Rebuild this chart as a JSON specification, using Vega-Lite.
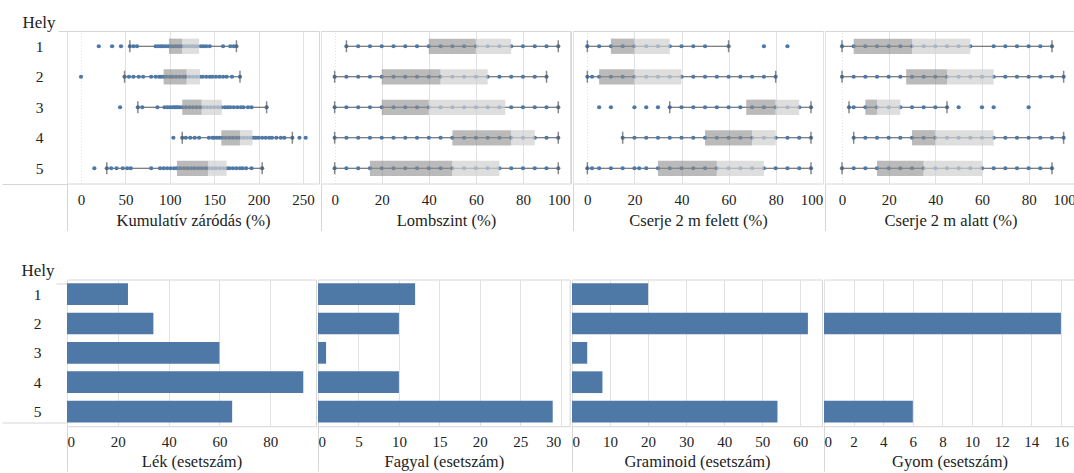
{
  "$schema": "https://vega.github.io/schema/vega-lite/v6.json",
  "padding": {"left": 1, "top": 13, "right": 0, "bottom": 0},
  "config": {
    "font": "Times New Roman, Liberation Serif, DejaVu Serif, serif",
    "view": {"stroke": "#d6d6d6"},
    "axis": {
      "labelFont": "Times New Roman, Liberation Serif, DejaVu Serif, serif",
      "labelFontSize": 15,
      "labelColor": "#222",
      "titleFont": "Times New Roman, Liberation Serif, DejaVu Serif, serif",
      "titleFontSize": 16.5,
      "titleFontWeight": "normal",
      "titleColor": "#222",
      "domain": false
    },
    "axisX": {
      "grid": true,
      "gridColor": "#e2e2e2",
      "ticks": true,
      "tickColor": "#d6d6d6",
      "labelFlush": 6,
      "titleBaseline": "middle"
    },
    "axisY": {"grid": false}
  },
  "datasets": {
    "pts": [
      {"panel":"kum","hely":"1","ertek":20},{"panel":"kum","hely":"1","ertek":35},{"panel":"kum","hely":"1","ertek":45},{"panel":"kum","hely":"1","ertek":55},{"panel":"kum","hely":"1","ertek":59},{"panel":"kum","hely":"1","ertek":63},{"panel":"kum","hely":"1","ertek":84},{"panel":"kum","hely":"1","ertek":87},{"panel":"kum","hely":"1","ertek":90},{"panel":"kum","hely":"1","ertek":92},{"panel":"kum","hely":"1","ertek":95},{"panel":"kum","hely":"1","ertek":98},{"panel":"kum","hely":"1","ertek":101},{"panel":"kum","hely":"1","ertek":104},{"panel":"kum","hely":"1","ertek":107},{"panel":"kum","hely":"1","ertek":110},{"panel":"kum","hely":"1","ertek":113},{"panel":"kum","hely":"1","ertek":116},{"panel":"kum","hely":"1","ertek":119},{"panel":"kum","hely":"1","ertek":122},{"panel":"kum","hely":"1","ertek":125},{"panel":"kum","hely":"1","ertek":128},{"panel":"kum","hely":"1","ertek":131},{"panel":"kum","hely":"1","ertek":135},{"panel":"kum","hely":"1","ertek":138},{"panel":"kum","hely":"1","ertek":141},{"panel":"kum","hely":"1","ertek":145},{"panel":"kum","hely":"1","ertek":160},{"panel":"kum","hely":"1","ertek":168},{"panel":"kum","hely":"1","ertek":172},{"panel":"kum","hely":"1","ertek":175},
      {"panel":"kum","hely":"2","ertek":0},{"panel":"kum","hely":"2","ertek":49},{"panel":"kum","hely":"2","ertek":54},{"panel":"kum","hely":"2","ertek":59},{"panel":"kum","hely":"2","ertek":65},{"panel":"kum","hely":"2","ertek":70},{"panel":"kum","hely":"2","ertek":79},{"panel":"kum","hely":"2","ertek":84},{"panel":"kum","hely":"2","ertek":88},{"panel":"kum","hely":"2","ertek":90},{"panel":"kum","hely":"2","ertek":93},{"panel":"kum","hely":"2","ertek":96},{"panel":"kum","hely":"2","ertek":100},{"panel":"kum","hely":"2","ertek":103},{"panel":"kum","hely":"2","ertek":107},{"panel":"kum","hely":"2","ertek":111},{"panel":"kum","hely":"2","ertek":115},{"panel":"kum","hely":"2","ertek":118},{"panel":"kum","hely":"2","ertek":122},{"panel":"kum","hely":"2","ertek":126},{"panel":"kum","hely":"2","ertek":130},{"panel":"kum","hely":"2","ertek":134},{"panel":"kum","hely":"2","ertek":137},{"panel":"kum","hely":"2","ertek":141},{"panel":"kum","hely":"2","ertek":145},{"panel":"kum","hely":"2","ertek":148},{"panel":"kum","hely":"2","ertek":152},{"panel":"kum","hely":"2","ertek":156},{"panel":"kum","hely":"2","ertek":160},{"panel":"kum","hely":"2","ertek":164},{"panel":"kum","hely":"2","ertek":170},{"panel":"kum","hely":"2","ertek":179},
      {"panel":"kum","hely":"3","ertek":44},{"panel":"kum","hely":"3","ertek":64},{"panel":"kum","hely":"3","ertek":69},{"panel":"kum","hely":"3","ertek":86},{"panel":"kum","hely":"3","ertek":94},{"panel":"kum","hely":"3","ertek":97},{"panel":"kum","hely":"3","ertek":100},{"panel":"kum","hely":"3","ertek":103},{"panel":"kum","hely":"3","ertek":105},{"panel":"kum","hely":"3","ertek":107},{"panel":"kum","hely":"3","ertek":109},{"panel":"kum","hely":"3","ertek":111},{"panel":"kum","hely":"3","ertek":114},{"panel":"kum","hely":"3","ertek":118},{"panel":"kum","hely":"3","ertek":122},{"panel":"kum","hely":"3","ertek":126},{"panel":"kum","hely":"3","ertek":130},{"panel":"kum","hely":"3","ertek":134},{"panel":"kum","hely":"3","ertek":138},{"panel":"kum","hely":"3","ertek":142},{"panel":"kum","hely":"3","ertek":146},{"panel":"kum","hely":"3","ertek":150},{"panel":"kum","hely":"3","ertek":154},{"panel":"kum","hely":"3","ertek":158},{"panel":"kum","hely":"3","ertek":162},{"panel":"kum","hely":"3","ertek":165},{"panel":"kum","hely":"3","ertek":168},{"panel":"kum","hely":"3","ertek":172},{"panel":"kum","hely":"3","ertek":176},{"panel":"kum","hely":"3","ertek":180},{"panel":"kum","hely":"3","ertek":183},{"panel":"kum","hely":"3","ertek":188},{"panel":"kum","hely":"3","ertek":192},{"panel":"kum","hely":"3","ertek":209},
      {"panel":"kum","hely":"4","ertek":104},{"panel":"kum","hely":"4","ertek":114},{"panel":"kum","hely":"4","ertek":118},{"panel":"kum","hely":"4","ertek":123},{"panel":"kum","hely":"4","ertek":128},{"panel":"kum","hely":"4","ertek":133},{"panel":"kum","hely":"4","ertek":144},{"panel":"kum","hely":"4","ertek":148},{"panel":"kum","hely":"4","ertek":150},{"panel":"kum","hely":"4","ertek":153},{"panel":"kum","hely":"4","ertek":156},{"panel":"kum","hely":"4","ertek":159},{"panel":"kum","hely":"4","ertek":163},{"panel":"kum","hely":"4","ertek":167},{"panel":"kum","hely":"4","ertek":171},{"panel":"kum","hely":"4","ertek":175},{"panel":"kum","hely":"4","ertek":179},{"panel":"kum","hely":"4","ertek":183},{"panel":"kum","hely":"4","ertek":187},{"panel":"kum","hely":"4","ertek":191},{"panel":"kum","hely":"4","ertek":194},{"panel":"kum","hely":"4","ertek":197},{"panel":"kum","hely":"4","ertek":200},{"panel":"kum","hely":"4","ertek":204},{"panel":"kum","hely":"4","ertek":208},{"panel":"kum","hely":"4","ertek":212},{"panel":"kum","hely":"4","ertek":215},{"panel":"kum","hely":"4","ertek":220},{"panel":"kum","hely":"4","ertek":225},{"panel":"kum","hely":"4","ertek":229},{"panel":"kum","hely":"4","ertek":238},{"panel":"kum","hely":"4","ertek":246},{"panel":"kum","hely":"4","ertek":253},
      {"panel":"kum","hely":"5","ertek":15},{"panel":"kum","hely":"5","ertek":29},{"panel":"kum","hely":"5","ertek":34},{"panel":"kum","hely":"5","ertek":40},{"panel":"kum","hely":"5","ertek":47},{"panel":"kum","hely":"5","ertek":52},{"panel":"kum","hely":"5","ertek":56},{"panel":"kum","hely":"5","ertek":79},{"panel":"kum","hely":"5","ertek":89},{"panel":"kum","hely":"5","ertek":93},{"panel":"kum","hely":"5","ertek":97},{"panel":"kum","hely":"5","ertek":101},{"panel":"kum","hely":"5","ertek":105},{"panel":"kum","hely":"5","ertek":108},{"panel":"kum","hely":"5","ertek":112},{"panel":"kum","hely":"5","ertek":116},{"panel":"kum","hely":"5","ertek":120},{"panel":"kum","hely":"5","ertek":124},{"panel":"kum","hely":"5","ertek":128},{"panel":"kum","hely":"5","ertek":132},{"panel":"kum","hely":"5","ertek":136},{"panel":"kum","hely":"5","ertek":140},{"panel":"kum","hely":"5","ertek":144},{"panel":"kum","hely":"5","ertek":148},{"panel":"kum","hely":"5","ertek":152},{"panel":"kum","hely":"5","ertek":156},{"panel":"kum","hely":"5","ertek":160},{"panel":"kum","hely":"5","ertek":164},{"panel":"kum","hely":"5","ertek":167},{"panel":"kum","hely":"5","ertek":171},{"panel":"kum","hely":"5","ertek":175},{"panel":"kum","hely":"5","ertek":179},{"panel":"kum","hely":"5","ertek":182},{"panel":"kum","hely":"5","ertek":186},{"panel":"kum","hely":"5","ertek":192},{"panel":"kum","hely":"5","ertek":204},

      {"panel":"lomb","hely":"1","ertek":5},{"panel":"lomb","hely":"1","ertek":10},{"panel":"lomb","hely":"1","ertek":15},{"panel":"lomb","hely":"1","ertek":20},{"panel":"lomb","hely":"1","ertek":25},{"panel":"lomb","hely":"1","ertek":30},{"panel":"lomb","hely":"1","ertek":35},{"panel":"lomb","hely":"1","ertek":40},{"panel":"lomb","hely":"1","ertek":45},{"panel":"lomb","hely":"1","ertek":50},{"panel":"lomb","hely":"1","ertek":55},{"panel":"lomb","hely":"1","ertek":60},{"panel":"lomb","hely":"1","ertek":65},{"panel":"lomb","hely":"1","ertek":70},{"panel":"lomb","hely":"1","ertek":75},{"panel":"lomb","hely":"1","ertek":80},{"panel":"lomb","hely":"1","ertek":85},{"panel":"lomb","hely":"1","ertek":90},{"panel":"lomb","hely":"1","ertek":95},
      {"panel":"lomb","hely":"2","ertek":0},{"panel":"lomb","hely":"2","ertek":5},{"panel":"lomb","hely":"2","ertek":10},{"panel":"lomb","hely":"2","ertek":15},{"panel":"lomb","hely":"2","ertek":20},{"panel":"lomb","hely":"2","ertek":25},{"panel":"lomb","hely":"2","ertek":30},{"panel":"lomb","hely":"2","ertek":35},{"panel":"lomb","hely":"2","ertek":40},{"panel":"lomb","hely":"2","ertek":45},{"panel":"lomb","hely":"2","ertek":50},{"panel":"lomb","hely":"2","ertek":55},{"panel":"lomb","hely":"2","ertek":60},{"panel":"lomb","hely":"2","ertek":65},{"panel":"lomb","hely":"2","ertek":70},{"panel":"lomb","hely":"2","ertek":75},{"panel":"lomb","hely":"2","ertek":80},{"panel":"lomb","hely":"2","ertek":85},{"panel":"lomb","hely":"2","ertek":90},
      {"panel":"lomb","hely":"3","ertek":0},{"panel":"lomb","hely":"3","ertek":5},{"panel":"lomb","hely":"3","ertek":10},{"panel":"lomb","hely":"3","ertek":15},{"panel":"lomb","hely":"3","ertek":20},{"panel":"lomb","hely":"3","ertek":25},{"panel":"lomb","hely":"3","ertek":30},{"panel":"lomb","hely":"3","ertek":35},{"panel":"lomb","hely":"3","ertek":40},{"panel":"lomb","hely":"3","ertek":45},{"panel":"lomb","hely":"3","ertek":50},{"panel":"lomb","hely":"3","ertek":55},{"panel":"lomb","hely":"3","ertek":60},{"panel":"lomb","hely":"3","ertek":65},{"panel":"lomb","hely":"3","ertek":70},{"panel":"lomb","hely":"3","ertek":75},{"panel":"lomb","hely":"3","ertek":80},{"panel":"lomb","hely":"3","ertek":85},{"panel":"lomb","hely":"3","ertek":90},{"panel":"lomb","hely":"3","ertek":95},
      {"panel":"lomb","hely":"4","ertek":0},{"panel":"lomb","hely":"4","ertek":5},{"panel":"lomb","hely":"4","ertek":10},{"panel":"lomb","hely":"4","ertek":15},{"panel":"lomb","hely":"4","ertek":20},{"panel":"lomb","hely":"4","ertek":25},{"panel":"lomb","hely":"4","ertek":30},{"panel":"lomb","hely":"4","ertek":35},{"panel":"lomb","hely":"4","ertek":40},{"panel":"lomb","hely":"4","ertek":45},{"panel":"lomb","hely":"4","ertek":50},{"panel":"lomb","hely":"4","ertek":55},{"panel":"lomb","hely":"4","ertek":60},{"panel":"lomb","hely":"4","ertek":65},{"panel":"lomb","hely":"4","ertek":70},{"panel":"lomb","hely":"4","ertek":75},{"panel":"lomb","hely":"4","ertek":80},{"panel":"lomb","hely":"4","ertek":85},{"panel":"lomb","hely":"4","ertek":90},{"panel":"lomb","hely":"4","ertek":95},
      {"panel":"lomb","hely":"5","ertek":0},{"panel":"lomb","hely":"5","ertek":5},{"panel":"lomb","hely":"5","ertek":10},{"panel":"lomb","hely":"5","ertek":15},{"panel":"lomb","hely":"5","ertek":20},{"panel":"lomb","hely":"5","ertek":25},{"panel":"lomb","hely":"5","ertek":30},{"panel":"lomb","hely":"5","ertek":35},{"panel":"lomb","hely":"5","ertek":40},{"panel":"lomb","hely":"5","ertek":45},{"panel":"lomb","hely":"5","ertek":50},{"panel":"lomb","hely":"5","ertek":55},{"panel":"lomb","hely":"5","ertek":60},{"panel":"lomb","hely":"5","ertek":65},{"panel":"lomb","hely":"5","ertek":70},{"panel":"lomb","hely":"5","ertek":75},{"panel":"lomb","hely":"5","ertek":80},{"panel":"lomb","hely":"5","ertek":85},{"panel":"lomb","hely":"5","ertek":90},{"panel":"lomb","hely":"5","ertek":95},

      {"panel":"felett","hely":"1","ertek":0},{"panel":"felett","hely":"1","ertek":5},{"panel":"felett","hely":"1","ertek":10},{"panel":"felett","hely":"1","ertek":15},{"panel":"felett","hely":"1","ertek":20},{"panel":"felett","hely":"1","ertek":25},{"panel":"felett","hely":"1","ertek":30},{"panel":"felett","hely":"1","ertek":35},{"panel":"felett","hely":"1","ertek":40},{"panel":"felett","hely":"1","ertek":45},{"panel":"felett","hely":"1","ertek":50},{"panel":"felett","hely":"1","ertek":60},{"panel":"felett","hely":"1","ertek":75},{"panel":"felett","hely":"1","ertek":85},
      {"panel":"felett","hely":"2","ertek":0},{"panel":"felett","hely":"2","ertek":2},{"panel":"felett","hely":"2","ertek":5},{"panel":"felett","hely":"2","ertek":10},{"panel":"felett","hely":"2","ertek":15},{"panel":"felett","hely":"2","ertek":20},{"panel":"felett","hely":"2","ertek":25},{"panel":"felett","hely":"2","ertek":30},{"panel":"felett","hely":"2","ertek":35},{"panel":"felett","hely":"2","ertek":40},{"panel":"felett","hely":"2","ertek":45},{"panel":"felett","hely":"2","ertek":50},{"panel":"felett","hely":"2","ertek":55},{"panel":"felett","hely":"2","ertek":60},{"panel":"felett","hely":"2","ertek":65},{"panel":"felett","hely":"2","ertek":70},{"panel":"felett","hely":"2","ertek":75},{"panel":"felett","hely":"2","ertek":80},
      {"panel":"felett","hely":"3","ertek":5},{"panel":"felett","hely":"3","ertek":10},{"panel":"felett","hely":"3","ertek":20},{"panel":"felett","hely":"3","ertek":25},{"panel":"felett","hely":"3","ertek":30},{"panel":"felett","hely":"3","ertek":35},{"panel":"felett","hely":"3","ertek":40},{"panel":"felett","hely":"3","ertek":45},{"panel":"felett","hely":"3","ertek":50},{"panel":"felett","hely":"3","ertek":55},{"panel":"felett","hely":"3","ertek":60},{"panel":"felett","hely":"3","ertek":65},{"panel":"felett","hely":"3","ertek":70},{"panel":"felett","hely":"3","ertek":75},{"panel":"felett","hely":"3","ertek":80},{"panel":"felett","hely":"3","ertek":85},{"panel":"felett","hely":"3","ertek":90},{"panel":"felett","hely":"3","ertek":95},
      {"panel":"felett","hely":"4","ertek":15},{"panel":"felett","hely":"4","ertek":20},{"panel":"felett","hely":"4","ertek":25},{"panel":"felett","hely":"4","ertek":30},{"panel":"felett","hely":"4","ertek":35},{"panel":"felett","hely":"4","ertek":40},{"panel":"felett","hely":"4","ertek":45},{"panel":"felett","hely":"4","ertek":50},{"panel":"felett","hely":"4","ertek":55},{"panel":"felett","hely":"4","ertek":60},{"panel":"felett","hely":"4","ertek":65},{"panel":"felett","hely":"4","ertek":70},{"panel":"felett","hely":"4","ertek":75},{"panel":"felett","hely":"4","ertek":80},{"panel":"felett","hely":"4","ertek":85},{"panel":"felett","hely":"4","ertek":90},{"panel":"felett","hely":"4","ertek":95},
      {"panel":"felett","hely":"5","ertek":0},{"panel":"felett","hely":"5","ertek":2},{"panel":"felett","hely":"5","ertek":5},{"panel":"felett","hely":"5","ertek":10},{"panel":"felett","hely":"5","ertek":15},{"panel":"felett","hely":"5","ertek":20},{"panel":"felett","hely":"5","ertek":22},{"panel":"felett","hely":"5","ertek":25},{"panel":"felett","hely":"5","ertek":30},{"panel":"felett","hely":"5","ertek":35},{"panel":"felett","hely":"5","ertek":40},{"panel":"felett","hely":"5","ertek":45},{"panel":"felett","hely":"5","ertek":50},{"panel":"felett","hely":"5","ertek":55},{"panel":"felett","hely":"5","ertek":60},{"panel":"felett","hely":"5","ertek":65},{"panel":"felett","hely":"5","ertek":70},{"panel":"felett","hely":"5","ertek":75},{"panel":"felett","hely":"5","ertek":80},{"panel":"felett","hely":"5","ertek":85},{"panel":"felett","hely":"5","ertek":90},{"panel":"felett","hely":"5","ertek":95},

      {"panel":"alatt","hely":"1","ertek":0},{"panel":"alatt","hely":"1","ertek":5},{"panel":"alatt","hely":"1","ertek":10},{"panel":"alatt","hely":"1","ertek":15},{"panel":"alatt","hely":"1","ertek":20},{"panel":"alatt","hely":"1","ertek":25},{"panel":"alatt","hely":"1","ertek":30},{"panel":"alatt","hely":"1","ertek":35},{"panel":"alatt","hely":"1","ertek":40},{"panel":"alatt","hely":"1","ertek":45},{"panel":"alatt","hely":"1","ertek":50},{"panel":"alatt","hely":"1","ertek":55},{"panel":"alatt","hely":"1","ertek":65},{"panel":"alatt","hely":"1","ertek":70},{"panel":"alatt","hely":"1","ertek":75},{"panel":"alatt","hely":"1","ertek":80},{"panel":"alatt","hely":"1","ertek":85},{"panel":"alatt","hely":"1","ertek":90},
      {"panel":"alatt","hely":"2","ertek":0},{"panel":"alatt","hely":"2","ertek":5},{"panel":"alatt","hely":"2","ertek":10},{"panel":"alatt","hely":"2","ertek":15},{"panel":"alatt","hely":"2","ertek":20},{"panel":"alatt","hely":"2","ertek":25},{"panel":"alatt","hely":"2","ertek":30},{"panel":"alatt","hely":"2","ertek":35},{"panel":"alatt","hely":"2","ertek":40},{"panel":"alatt","hely":"2","ertek":45},{"panel":"alatt","hely":"2","ertek":50},{"panel":"alatt","hely":"2","ertek":55},{"panel":"alatt","hely":"2","ertek":60},{"panel":"alatt","hely":"2","ertek":65},{"panel":"alatt","hely":"2","ertek":70},{"panel":"alatt","hely":"2","ertek":75},{"panel":"alatt","hely":"2","ertek":80},{"panel":"alatt","hely":"2","ertek":85},{"panel":"alatt","hely":"2","ertek":90},{"panel":"alatt","hely":"2","ertek":95},
      {"panel":"alatt","hely":"3","ertek":3},{"panel":"alatt","hely":"3","ertek":5},{"panel":"alatt","hely":"3","ertek":10},{"panel":"alatt","hely":"3","ertek":15},{"panel":"alatt","hely":"3","ertek":20},{"panel":"alatt","hely":"3","ertek":25},{"panel":"alatt","hely":"3","ertek":30},{"panel":"alatt","hely":"3","ertek":35},{"panel":"alatt","hely":"3","ertek":40},{"panel":"alatt","hely":"3","ertek":45},{"panel":"alatt","hely":"3","ertek":50},{"panel":"alatt","hely":"3","ertek":60},{"panel":"alatt","hely":"3","ertek":65},{"panel":"alatt","hely":"3","ertek":80},
      {"panel":"alatt","hely":"4","ertek":5},{"panel":"alatt","hely":"4","ertek":10},{"panel":"alatt","hely":"4","ertek":15},{"panel":"alatt","hely":"4","ertek":20},{"panel":"alatt","hely":"4","ertek":25},{"panel":"alatt","hely":"4","ertek":30},{"panel":"alatt","hely":"4","ertek":35},{"panel":"alatt","hely":"4","ertek":40},{"panel":"alatt","hely":"4","ertek":45},{"panel":"alatt","hely":"4","ertek":50},{"panel":"alatt","hely":"4","ertek":55},{"panel":"alatt","hely":"4","ertek":60},{"panel":"alatt","hely":"4","ertek":65},{"panel":"alatt","hely":"4","ertek":70},{"panel":"alatt","hely":"4","ertek":75},{"panel":"alatt","hely":"4","ertek":80},{"panel":"alatt","hely":"4","ertek":85},{"panel":"alatt","hely":"4","ertek":90},{"panel":"alatt","hely":"4","ertek":95},
      {"panel":"alatt","hely":"5","ertek":0},{"panel":"alatt","hely":"5","ertek":5},{"panel":"alatt","hely":"5","ertek":10},{"panel":"alatt","hely":"5","ertek":15},{"panel":"alatt","hely":"5","ertek":20},{"panel":"alatt","hely":"5","ertek":25},{"panel":"alatt","hely":"5","ertek":30},{"panel":"alatt","hely":"5","ertek":35},{"panel":"alatt","hely":"5","ertek":40},{"panel":"alatt","hely":"5","ertek":45},{"panel":"alatt","hely":"5","ertek":50},{"panel":"alatt","hely":"5","ertek":55},{"panel":"alatt","hely":"5","ertek":60},{"panel":"alatt","hely":"5","ertek":65},{"panel":"alatt","hely":"5","ertek":70},{"panel":"alatt","hely":"5","ertek":75},{"panel":"alatt","hely":"5","ertek":80},{"panel":"alatt","hely":"5","ertek":85},{"panel":"alatt","hely":"5","ertek":90}
    ],
    "box": [
      {"panel":"kum","hely":"1","also":55,"q1":99,"med":114,"q3":133,"felso":175},
      {"panel":"kum","hely":"2","also":49,"q1":93,"med":119,"q3":134,"felso":179},
      {"panel":"kum","hely":"3","also":64,"q1":114,"med":136,"q3":158.5,"felso":209},
      {"panel":"kum","hely":"4","also":114,"q1":158,"med":179,"q3":193,"felso":238},
      {"panel":"kum","hely":"5","also":29,"q1":108,"med":143,"q3":164,"felso":204},
      {"panel":"lomb","hely":"1","also":5,"q1":40,"med":60,"q3":75,"felso":95},
      {"panel":"lomb","hely":"2","also":0,"q1":20,"med":45,"q3":65,"felso":90},
      {"panel":"lomb","hely":"3","also":0,"q1":20,"med":40,"q3":72.5,"felso":95},
      {"panel":"lomb","hely":"4","also":0,"q1":50,"med":75,"q3":85,"felso":95},
      {"panel":"lomb","hely":"5","also":0,"q1":15,"med":50,"q3":70,"felso":95},
      {"panel":"felett","hely":"1","also":0,"q1":10,"med":20,"q3":35,"felso":60},
      {"panel":"felett","hely":"2","also":0,"q1":5,"med":20,"q3":40,"felso":80},
      {"panel":"felett","hely":"3","also":35,"q1":67.5,"med":80,"q3":90,"felso":95},
      {"panel":"felett","hely":"4","also":15,"q1":50,"med":70,"q3":80,"felso":95},
      {"panel":"felett","hely":"5","also":0,"q1":30,"med":55,"q3":75,"felso":95},
      {"panel":"alatt","hely":"1","also":0,"q1":5,"med":30,"q3":55,"felso":90},
      {"panel":"alatt","hely":"2","also":0,"q1":27.5,"med":45,"q3":65,"felso":95},
      {"panel":"alatt","hely":"3","also":3,"q1":10,"med":15,"q3":25,"felso":45},
      {"panel":"alatt","hely":"4","also":5,"q1":30,"med":40,"q3":65,"felso":95},
      {"panel":"alatt","hely":"5","also":0,"q1":15,"med":35,"q3":60,"felso":90}
    ],
    "bars": [
      {"panel":"lek","hely":"1","n":24},{"panel":"lek","hely":"2","n":34},{"panel":"lek","hely":"3","n":60},{"panel":"lek","hely":"4","n":93},{"panel":"lek","hely":"5","n":65},
      {"panel":"fagyal","hely":"1","n":12},{"panel":"fagyal","hely":"2","n":10},{"panel":"fagyal","hely":"3","n":1},{"panel":"fagyal","hely":"4","n":10},{"panel":"fagyal","hely":"5","n":29},
      {"panel":"gram","hely":"1","n":20},{"panel":"gram","hely":"2","n":62},{"panel":"gram","hely":"3","n":4},{"panel":"gram","hely":"4","n":8},{"panel":"gram","hely":"5","n":54},
      {"panel":"gyom","hely":"2","n":16},{"panel":"gyom","hely":"5","n":6}
    ]
  },
  "spacing": 28.5,
  "vconcat": [
    {
      "spacing": 0,
      "hconcat": [
        {
          "width": 252, "height": 152.5,
          "layer": [
            {"data": {"name": "box"}, "transform": [{"filter": "datum.panel === 'kum'"}],
             "mark": {"type": "rule", "color": "#555", "strokeWidth": 1},
             "encoding": {
               "x": {"field": "also", "type": "quantitative", "scale": {"domain": [-15.8, 268], "nice": false, "zero": false},
                     "axis": {"title": "Kumulatív záródás (%)", "values": [-15.8, 0, 50, 100, 150, 200, 250], "labelExpr": "datum.value < 0 ? '' : datum.label",
                              "tickSize": 47, "labelPadding": -38, "titleY": 37,
                              "tickOpacity": {"condition": {"test": "datum.value < 0", "value": 1}, "value": 0},
                              "gridDash": {"condition": {"test": "datum.value === 0", "value": [1, 2]}, "value": []}}},
               "x2": {"field": "felso"},
               "y": {"field": "hely", "type": "nominal", "scale": {"domain": ["1", "2", "3", "4", "5"], "paddingInner": 0, "paddingOuter": 0},
                     "axis": {"title": "Hely", "titleAngle": 0, "titleAlign": "left", "titleBaseline": "alphabetic", "titleX": -45, "titleY": -3.5, "titleFontSize": 17,
                              "labelAlign": "center", "labelFontSize": 15.5,
                              "labelPadding": {"condition": {"test": "datum.value === '5'", "value": -37}, "value": 19},
                              "ticks": true, "tickBand": "extent", "tickColor": "#d6d6d6",
                              "tickSize": {"condition": {"test": "datum.value === '5'", "value": 65}, "value": 9},
                              "tickOpacity": {"condition": {"test": "datum.value === '5' || datum.index < 0", "value": 1}, "value": 0}}}
             }},
            {"data": {"name": "pts"}, "transform": [{"filter": "datum.panel === 'kum'"}],
             "mark": {"type": "circle", "size": 18, "color": "#4e79a7", "opacity": 1},
             "encoding": {"x": {"field": "ertek", "type": "quantitative"}, "y": {"field": "hely", "type": "nominal"}}},
            {"data": {"name": "box"}, "transform": [{"filter": "datum.panel === 'kum'"}],
             "mark": {"type": "bar", "height": {"band": 0.5}, "color": "#8c8c8c", "opacity": 0.6},
             "encoding": {"x": {"field": "q1", "type": "quantitative"}, "x2": {"field": "med"}, "y": {"field": "hely", "type": "nominal"}}},
            {"data": {"name": "box"}, "transform": [{"filter": "datum.panel === 'kum'"}],
             "mark": {"type": "bar", "height": {"band": 0.5}, "color": "#d0d0d0", "opacity": 0.7},
             "encoding": {"x": {"field": "med", "type": "quantitative"}, "x2": {"field": "q3"}, "y": {"field": "hely", "type": "nominal"}}},
            {"data": {"name": "box"}, "transform": [{"filter": "datum.panel === 'kum'"}],
             "mark": {"type": "tick", "color": "#555", "size": 12, "thickness": 1.5},
             "encoding": {"x": {"field": "also", "type": "quantitative"}, "y": {"field": "hely", "type": "nominal"}}},
            {"data": {"name": "box"}, "transform": [{"filter": "datum.panel === 'kum'"}],
             "mark": {"type": "tick", "color": "#555", "size": 12, "thickness": 1.5},
             "encoding": {"x": {"field": "felso", "type": "quantitative"}, "y": {"field": "hely", "type": "nominal"}}}
          ]
        },
        {
          "width": 250, "height": 152.5,
          "layer": [
            {"data": {"name": "box"}, "transform": [{"filter": "datum.panel === 'lomb'"}],
             "mark": {"type": "rule", "color": "#555", "strokeWidth": 1},
             "encoding": {
               "x": {"field": "also", "type": "quantitative", "scale": {"domain": [-5.8, 100.4], "nice": false, "zero": false},
                     "axis": {"title": "Lombszint (%)", "values": [-5.8, 0, 20, 40, 60, 80, 100], "labelExpr": "datum.value < 0 ? '' : datum.label",
                              "tickSize": 47, "labelPadding": -38, "titleY": 37,
                              "tickOpacity": {"condition": {"test": "datum.value < 0", "value": 1}, "value": 0},
                              "gridDash": {"condition": {"test": "datum.value === 0", "value": [1, 2]}, "value": []}}},
               "x2": {"field": "felso"},
               "y": {"field": "hely", "type": "nominal", "scale": {"domain": ["1", "2", "3", "4", "5"], "paddingInner": 0, "paddingOuter": 0}, "axis": null}
             }},
            {"data": {"name": "pts"}, "transform": [{"filter": "datum.panel === 'lomb'"}],
             "mark": {"type": "circle", "size": 18, "color": "#4e79a7", "opacity": 1},
             "encoding": {"x": {"field": "ertek", "type": "quantitative"}, "y": {"field": "hely", "type": "nominal"}}},
            {"data": {"name": "box"}, "transform": [{"filter": "datum.panel === 'lomb'"}],
             "mark": {"type": "bar", "height": {"band": 0.5}, "color": "#8c8c8c", "opacity": 0.6},
             "encoding": {"x": {"field": "q1", "type": "quantitative"}, "x2": {"field": "med"}, "y": {"field": "hely", "type": "nominal"}}},
            {"data": {"name": "box"}, "transform": [{"filter": "datum.panel === 'lomb'"}],
             "mark": {"type": "bar", "height": {"band": 0.5}, "color": "#d0d0d0", "opacity": 0.7},
             "encoding": {"x": {"field": "med", "type": "quantitative"}, "x2": {"field": "q3"}, "y": {"field": "hely", "type": "nominal"}}},
            {"data": {"name": "box"}, "transform": [{"filter": "datum.panel === 'lomb'"}],
             "mark": {"type": "tick", "color": "#555", "size": 12, "thickness": 1.5},
             "encoding": {"x": {"field": "also", "type": "quantitative"}, "y": {"field": "hely", "type": "nominal"}}},
            {"data": {"name": "box"}, "transform": [{"filter": "datum.panel === 'lomb'"}],
             "mark": {"type": "tick", "color": "#555", "size": 12, "thickness": 1.5},
             "encoding": {"x": {"field": "felso", "type": "quantitative"}, "y": {"field": "hely", "type": "nominal"}}}
          ]
        },
        {
          "width": 250, "height": 152.5,
          "layer": [
            {"data": {"name": "box"}, "transform": [{"filter": "datum.panel === 'felett'"}],
             "mark": {"type": "rule", "color": "#555", "strokeWidth": 1},
             "encoding": {
               "x": {"field": "also", "type": "quantitative", "scale": {"domain": [-6.1, 100.1], "nice": false, "zero": false},
                     "axis": {"title": "Cserje 2 m felett (%)", "values": [-6.1, 0, 20, 40, 60, 80, 100], "labelExpr": "datum.value < 0 ? '' : datum.label",
                              "tickSize": 47, "labelPadding": -38, "titleY": 37,
                              "tickOpacity": {"condition": {"test": "datum.value < 0", "value": 1}, "value": 0},
                              "gridDash": {"condition": {"test": "datum.value === 0", "value": [1, 2]}, "value": []}}},
               "x2": {"field": "felso"},
               "y": {"field": "hely", "type": "nominal", "scale": {"domain": ["1", "2", "3", "4", "5"], "paddingInner": 0, "paddingOuter": 0}, "axis": null}
             }},
            {"data": {"name": "pts"}, "transform": [{"filter": "datum.panel === 'felett'"}],
             "mark": {"type": "circle", "size": 18, "color": "#4e79a7", "opacity": 1},
             "encoding": {"x": {"field": "ertek", "type": "quantitative"}, "y": {"field": "hely", "type": "nominal"}}},
            {"data": {"name": "box"}, "transform": [{"filter": "datum.panel === 'felett'"}],
             "mark": {"type": "bar", "height": {"band": 0.5}, "color": "#8c8c8c", "opacity": 0.6},
             "encoding": {"x": {"field": "q1", "type": "quantitative"}, "x2": {"field": "med"}, "y": {"field": "hely", "type": "nominal"}}},
            {"data": {"name": "box"}, "transform": [{"filter": "datum.panel === 'felett'"}],
             "mark": {"type": "bar", "height": {"band": 0.5}, "color": "#d0d0d0", "opacity": 0.7},
             "encoding": {"x": {"field": "med", "type": "quantitative"}, "x2": {"field": "q3"}, "y": {"field": "hely", "type": "nominal"}}},
            {"data": {"name": "box"}, "transform": [{"filter": "datum.panel === 'felett'"}],
             "mark": {"type": "tick", "color": "#555", "size": 12, "thickness": 1.5},
             "encoding": {"x": {"field": "also", "type": "quantitative"}, "y": {"field": "hely", "type": "nominal"}}},
            {"data": {"name": "box"}, "transform": [{"filter": "datum.panel === 'felett'"}],
             "mark": {"type": "tick", "color": "#555", "size": 12, "thickness": 1.5},
             "encoding": {"x": {"field": "felso", "type": "quantitative"}, "y": {"field": "hely", "type": "nominal"}}}
          ]
        },
        {
          "width": 251, "height": 152.5,
          "layer": [
            {"data": {"name": "box"}, "transform": [{"filter": "datum.panel === 'alatt'"}],
             "mark": {"type": "rule", "color": "#555", "strokeWidth": 1},
             "encoding": {
               "x": {"field": "also", "type": "quantitative", "scale": {"domain": [-7.3, 100.3], "nice": false, "zero": false},
                     "axis": {"title": "Cserje 2 m alatt (%)", "values": [-7.3, 0, 20, 40, 60, 80, 100], "labelExpr": "datum.value < 0 ? '' : datum.label",
                              "tickSize": 47, "labelPadding": -38, "titleY": 37,
                              "tickOpacity": {"condition": {"test": "datum.value < 0", "value": 1}, "value": 0},
                              "gridDash": {"condition": {"test": "datum.value === 0", "value": [1, 2]}, "value": []}}},
               "x2": {"field": "felso"},
               "y": {"field": "hely", "type": "nominal", "scale": {"domain": ["1", "2", "3", "4", "5"], "paddingInner": 0, "paddingOuter": 0}, "axis": null}
             }},
            {"data": {"name": "pts"}, "transform": [{"filter": "datum.panel === 'alatt'"}],
             "mark": {"type": "circle", "size": 18, "color": "#4e79a7", "opacity": 1},
             "encoding": {"x": {"field": "ertek", "type": "quantitative"}, "y": {"field": "hely", "type": "nominal"}}},
            {"data": {"name": "box"}, "transform": [{"filter": "datum.panel === 'alatt'"}],
             "mark": {"type": "bar", "height": {"band": 0.5}, "color": "#8c8c8c", "opacity": 0.6},
             "encoding": {"x": {"field": "q1", "type": "quantitative"}, "x2": {"field": "med"}, "y": {"field": "hely", "type": "nominal"}}},
            {"data": {"name": "box"}, "transform": [{"filter": "datum.panel === 'alatt'"}],
             "mark": {"type": "bar", "height": {"band": 0.5}, "color": "#d0d0d0", "opacity": 0.7},
             "encoding": {"x": {"field": "med", "type": "quantitative"}, "x2": {"field": "q3"}, "y": {"field": "hely", "type": "nominal"}}},
            {"data": {"name": "box"}, "transform": [{"filter": "datum.panel === 'alatt'"}],
             "mark": {"type": "tick", "color": "#555", "size": 12, "thickness": 1.5},
             "encoding": {"x": {"field": "also", "type": "quantitative"}, "y": {"field": "hely", "type": "nominal"}}},
            {"data": {"name": "box"}, "transform": [{"filter": "datum.panel === 'alatt'"}],
             "mark": {"type": "tick", "color": "#555", "size": 12, "thickness": 1.5},
             "encoding": {"x": {"field": "felso", "type": "quantitative"}, "y": {"field": "hely", "type": "nominal"}}}
          ]
        }
      ]
    },
    {
      "spacing": 0,
      "hconcat": [
        {
          "width": 249, "height": 146.7,
          "data": {"name": "bars"}, "transform": [{"filter": "datum.panel === 'lek'"}],
          "mark": {"type": "bar", "color": "#4e79a7"},
          "encoding": {
            "x": {"field": "n", "type": "quantitative", "scale": {"domain": [0, 98], "nice": false},
                  "axis": {"title": "Lék (esetszám)", "values": [0, 20, 40, 60, 80], "tickSize": 45, "labelPadding": -37, "titleY": 35.5,
                           "tickOpacity": {"condition": {"test": "datum.value === 0", "value": 1}, "value": 0}}},
            "y": {"field": "hely", "type": "nominal", "scale": {"domain": ["1", "2", "3", "4", "5"], "paddingInner": 0.26, "paddingOuter": 0.13},
                  "axis": {"title": "Hely", "titleAngle": 0, "titleAlign": "left", "titleBaseline": "alphabetic", "titleX": -46, "titleY": -4, "titleFontSize": 17,
                           "labelAlign": "center", "labelFontSize": 15.5,
                           "labelPadding": {"condition": {"test": "datum.value === '5'", "value": -35}, "value": 19},
                           "ticks": true, "tickBand": "extent", "tickColor": "#d6d6d6",
                           "tickSize": {"condition": {"test": "datum.value === '5'", "value": 65}, "value": 11},
                           "tickOpacity": {"condition": {"test": "datum.value === '5' || datum.index < 0", "value": 1}, "value": 0}}}
          }
        },
        {
          "width": 251.7, "height": 146.7,
          "data": {"name": "bars"}, "transform": [{"filter": "datum.panel === 'fagyal'"}],
          "mark": {"type": "bar", "color": "#4e79a7"},
          "encoding": {
            "x": {"field": "n", "type": "quantitative", "scale": {"domain": [0, 31.1], "nice": false},
                  "axis": {"title": "Fagyal (esetszám)", "values": [0, 5, 10, 15, 20, 25, 30], "tickSize": 45, "labelPadding": -37, "titleY": 35.5, "labelFlush": 10,
                           "tickOpacity": {"condition": {"test": "datum.value === 0", "value": 1}, "value": 0}}},
            "y": {"field": "hely", "type": "nominal", "scale": {"domain": ["1", "2", "3", "4", "5"], "paddingInner": 0.26, "paddingOuter": 0.13}, "axis": null}
          }
        },
        {
          "width": 250, "height": 146.7,
          "data": {"name": "bars"}, "transform": [{"filter": "datum.panel === 'gram'"}],
          "mark": {"type": "bar", "color": "#4e79a7"},
          "encoding": {
            "x": {"field": "n", "type": "quantitative", "scale": {"domain": [0, 65.7], "nice": false},
                  "axis": {"title": "Graminoid (esetszám)", "values": [0, 10, 20, 30, 40, 50, 60], "tickSize": 45, "labelPadding": -37, "titleY": 35.5,
                           "tickOpacity": {"condition": {"test": "datum.value === 0", "value": 1}, "value": 0}}},
            "y": {"field": "hely", "type": "nominal", "scale": {"domain": ["1", "2", "3", "4", "5"], "paddingInner": 0.26, "paddingOuter": 0.13}, "axis": null}
          }
        },
        {
          "width": 251, "height": 146.7,
          "data": {"name": "bars"}, "transform": [{"filter": "datum.panel === 'gyom'"}],
          "mark": {"type": "bar", "color": "#4e79a7"},
          "encoding": {
            "x": {"field": "n", "type": "quantitative", "scale": {"domain": [0, 16.95], "nice": false},
                  "axis": {"title": "Gyom (esetszám)", "values": [0, 2, 4, 6, 8, 10, 12, 14, 16], "tickSize": 45, "labelPadding": -37, "titleY": 35.5,
                           "tickOpacity": {"condition": {"test": "datum.value === 0", "value": 1}, "value": 0}}},
            "y": {"field": "hely", "type": "nominal", "scale": {"domain": ["1", "2", "3", "4", "5"], "paddingInner": 0.26, "paddingOuter": 0.13}, "axis": null}
          }
        }
      ]
    }
  ]
}
